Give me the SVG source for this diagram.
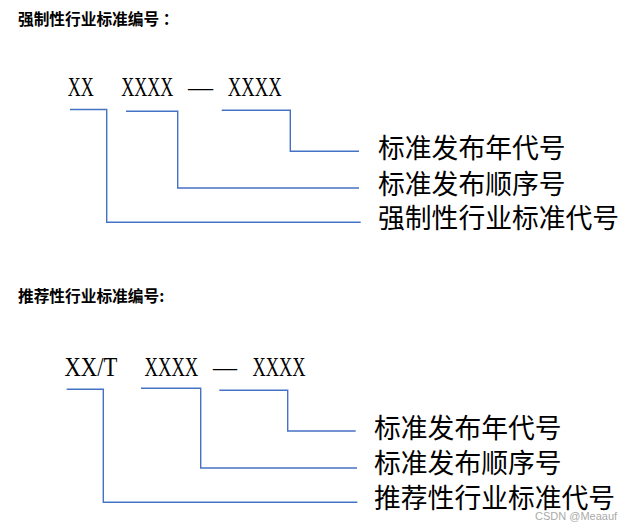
<svg xmlns="http://www.w3.org/2000/svg" width="632" height="529" viewBox="0 0 632 529">
<style>
.title{font-family:"Noto Sans CJK SC","Noto Sans",sans-serif;font-size:15.7px;font-weight:bold;fill:#000}
.code{font-family:"Liberation Serif",serif;font-size:27px;fill:#000}
.lab{font-family:"Noto Sans CJK SC","Noto Sans",sans-serif;font-size:26.8px;fill:#000}
.ln{fill:none;stroke:#4472C4;stroke-width:1.4}
.wm{font-family:"Liberation Sans",Arial,sans-serif;font-size:11px;fill:#aaa}
</style>
<rect width="632" height="529" fill="#fff"/>
<g id="top-section">
<text class="title" x="18" y="25">强制性行业标准编号 ：</text>
<g id="top-code">
<text class="code" transform="translate(67.8,96) scale(0.667,1)">XX</text>
<text class="code" transform="translate(121.3,96) scale(0.667,1)">XXXX</text>
<text class="code" transform="translate(188,96) scale(0.93,1)">—</text>
<text class="code" transform="translate(227.8,96) scale(0.69,1)">XXXX</text>
</g>
<g id="top-label-year"><text class="lab" x="378" y="158">标准发布年代号</text></g>
<g id="top-label-seq"><text class="lab" x="378" y="194">标准发布顺序号</text></g>
<g id="top-label-code"><text class="lab" x="378" y="228">强制性行业标准代号</text></g>
</g>
<g id="bottom-section">
<text class="title" x="18" y="302">推荐性行业标准编号:</text>
<g id="bottom-code">
<text class="code" transform="translate(64.5,376) scale(0.84,1)">XX/T</text>
<text class="code" transform="translate(144.5,376) scale(0.69,1)">XXXX</text>
<text class="code" transform="translate(213,376) scale(0.89,1)">—</text>
<text class="code" transform="translate(252.5,376) scale(0.68,1)">XXXX</text>
</g>
<g id="bottom-label-year"><text class="lab" x="374" y="438">标准发布年代号</text></g>
<g id="bottom-label-seq"><text class="lab" x="374" y="473">标准发布顺序号</text></g>
<g id="bottom-label-code"><text class="lab" x="374" y="508">推荐性行业标准代号</text></g>
</g>
<g id="connectors">
<polyline class="ln" points="70,109.5 106.7,109.5 106.7,222.3 360.7,222.3"/>
<polyline class="ln" points="126,111.3 177.7,111.3 177.7,188 359,188"/>
<polyline class="ln" points="221.7,110.3 290.3,110.3 290.3,151.3 359,151.3"/>
<polyline class="ln" points="66.7,389.3 103.3,389.3 103.3,502.3 357.3,502.3"/>
<polyline class="ln" points="141,388.3 200.7,388.3 200.7,468 357,468"/>
<polyline class="ln" points="219.3,390.3 287.7,390.3 287.7,431 355.7,431"/>
</g>
<text class="wm" x="535" y="520">CSDN @Meaauf</text>
</svg>
